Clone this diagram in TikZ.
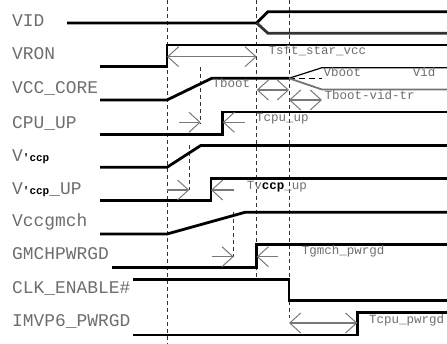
\documentclass[tikz,border=0pt]{standalone}
\usepackage{fontspec}
\setmonofont{Liberation Mono}
\usetikzlibrary{arrows.meta}
\definecolor{label-color}{RGB}{110,110,110}
\definecolor{dim-color}{RGB}{120,120,120}

\begin{document}
\begin{tikzpicture}[x=1pt,y=-1pt,
  signal/.style={line width=2.8pt, black},
  marker/.style={line width=0.8pt, dashed, dash pattern=on 4pt off 3pt, black!80},
  dimline/.style={line width=1.1pt, dim-color, {Straight Barb[length=11pt,width=20pt,line width=1pt]}-{Straight Barb[length=11pt,width=20pt,line width=1pt]}},
  dimtip/.style={line width=1.1pt, dim-color, -{Straight Barb[length=11pt,width=20pt,line width=1pt]}},
  siglabel/.style={anchor=base west, inner sep=0pt, text=label-color, font=\fontsize{17.9}{20}\selectfont\ttfamily},
  timelabel/.style={anchor=base west, inner sep=0pt, text=label-color, font=\fontsize{12.5}{14}\selectfont\ttfamily}]
\useasboundingbox (0,0) rectangle (447,344);

% signal names
\node[siglabel] (vid_label) at (12,26.7) {VID};
\node[siglabel] (vron_label) at (12,60) {VRON};
\node[siglabel] (vcc_core_label) at (12,93.3) {VCC\_CORE};
\node[siglabel] (cpu_up_label) at (12,128.3) {CPU\_UP};
\node[siglabel] (vccp_label) at (12,161.7) {V{\fontsize{11}{11}\selectfont\bfseries\color{black}'ccp}};
\node[siglabel] (vccp_up_label) at (12,195) {V{\fontsize{11}{11}\selectfont\bfseries\color{black}'ccp}\_UP};
\node[siglabel] (vccgmch_label) at (12,226.7) {Vccgmch};
\node[siglabel] (gmchpwrgd_label) at (12,260) {GMCHPWRGD};
\node[siglabel] (clk_enable_label) at (12,294) {CLK\_ENABLE\#};
\node[siglabel] (imvp6_label) at (12,326.7) {IMVP6\_PWRGD};

% time markers
\draw[marker] (167,0) -- (167,344);
\draw[marker] (256.7,0) -- (256.7,277);
\draw[marker] (289,0) -- (289,318);
\draw[marker] (200.7,67) -- (200.7,124);
\draw[marker] (189.3,145) -- (189.3,190);
\draw[marker] (233.7,212.5) -- (233.7,257);

% waveforms
\draw[signal] (67,23) -- (256.7,23) -- (268,11.7) -- (447,11.7);
\draw[signal, black!80] (256.7,23) -- (268,33.3) -- (447,33.3);
\draw[signal] (100,66.7) -- (167,66.7) -- (167,45) -- (447,45);
\draw[signal] (100,100) -- (167,100) -- (211.7,78.3) -- (289,78.3);
\draw[line width=1.2pt] (289,78.3) -- (322,67.7) -- (447,67.7);
\draw[line width=1.2pt, dashed, dash pattern=on 6pt off 4pt] (289,78.3) -- (322,78.3);
\draw[line width=1.8pt, black!55] (289,78.3) -- (322,89.5) -- (447,89.5);
\draw[signal] (100,134.3) -- (222.7,134.3) -- (222.7,112) -- (447,112);
\draw[signal] (100,167.3) -- (167,167.3) -- (200.7,145.5) -- (447,145.5);
\draw[signal] (100,200.7) -- (211,200.7) -- (211,178.7) -- (447,178.7);
\draw[signal] (100,234) -- (167,234) -- (245,212.3) -- (447,212.3);
\draw[signal] (111.7,267.7) -- (256.7,267.7) -- (256.7,244.7) -- (447,244.7);
\draw[signal] (133,279.3) -- (289,279.3) -- (289,300.7) -- (447,300.7);
\draw[signal] (133,335) -- (357.3,335) -- (357.3,312.3) -- (447,312.3);

% timing arrows
\draw[dimline] (167,56.7) -- (256.7,56.7);
\draw[dimline] (256.7,90) -- (289,90);
\draw[dimline] (289,100) -- (322,100);
\draw[dimtip] (179,122.3) -- (200.7,122.3);
\draw[dimtip] (245,122.3) -- (222.7,122.3);
\draw[dimtip] (166.7,190) -- (189.3,190);
\draw[dimtip] (234,190) -- (211,190);
\draw[dimtip] (211.7,256.7) -- (233.7,256.7);
\draw[dimtip] (278,256.7) -- (256.7,256.7);
\draw[dimline] (289,323) -- (357.3,323);

% timing names
\node[timelabel] (tsft_label) at (268.3,55) {Tsft\_star\_vcc};
\node[timelabel] (tboot_label) at (212.3,87.3) {Tboot};
\node[timelabel] (vboot_label) at (323.3,76.7) {Vboot};
\node[timelabel] (vid_value) at (412.7,76.7) {Vid};
\node[timelabel] (tboot_vid_label) at (324.3,100) {Tboot-vid-tr};
\node[timelabel] (tcpu_up_label) at (256,121.7) {Tcpu\_up};
\node[timelabel] (tvccp_up_label) at (246.7,189.3) {Tv{\bfseries\color{black}ccp}\_up};
\node[timelabel] (tgmch_label) at (301.7,255) {Tgmch\_pwrgd};
\node[timelabel] (tcpu_pwrgd_label) at (369,323.3) {Tcpu\_pwrgd};
\end{tikzpicture}
\end{document}
